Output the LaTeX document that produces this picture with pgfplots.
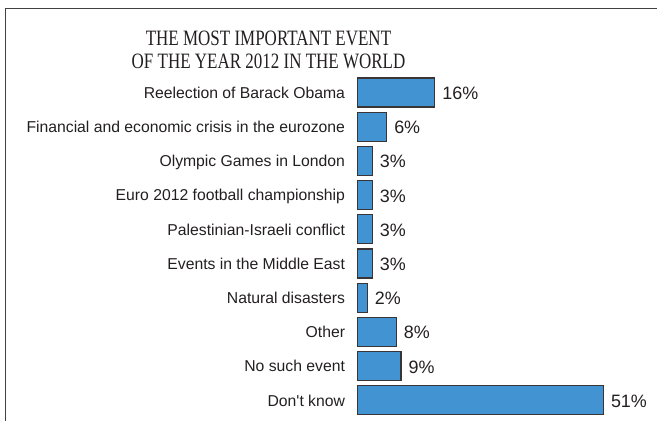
\documentclass[border=0pt]{standalone}
\usepackage{pgfplots}
\pgfplotsset{compat=1.18}
\usepackage{fontspec}
\setmainfont{Liberation Sans}[Ligatures=TeXOff]
\newfontfamily\titlefont[FakeStretch=0.775]{Liberation Serif}
\definecolor{barblue}{HTML}{4193D2}
\definecolor{ink}{HTML}{231F20}
\begin{document}
\begin{tikzpicture}[x=1bp,y=1bp]
\useasboundingbox (0,0) rectangle (657,421);
\draw[ink!85, line width=1.2bp] (5.7,0) -- (5.7,412.7) -- (657,412.7);
\node[anchor=base, inner sep=0pt, font=\titlefont\fontsize{22}{24}\selectfont, text=ink] at (268.5,375.5) {THE MOST IMPORTANT EVENT};
\node[anchor=base, inner sep=0pt, font=\titlefont\fontsize{22}{24}\selectfont, text=ink] at (268.5,352.2) {OF THE YEAR 2012 IN THE WORLD};
\begin{axis}[
  at={(357.7bp,3.6bp)}, anchor=south west,
  scale only axis, width=289bp, height=342bp,
  xmin=0, xmax=60, ymin=-0.5, ymax=9.5,
  y dir=reverse, clip=false,
  xbar, bar width=29bp, bar shift=0pt,
  hide x axis,
  axis line style={draw=none},
  major tick length=0pt, tick style={draw=none},
  ytick={0,...,9},
  yticklabels={Reelection of Barack Obama,Financial and economic crisis in the eurozone,Olympic Games in London,Euro 2012 football championship,Palestinian-Israeli conflict,Events in the Middle East,Natural disasters,Other,No such event,Don't know},
  yticklabel style={font=\fontsize{15.8}{17}\selectfont, text=ink, anchor=base east, inner sep=0pt, xshift=-12.5bp, yshift=-5.7bp},
  nodes near coords={\pgfmathprintnumber[fixed,precision=0,assume math mode=true]{\pgfplotspointmeta}\%},
  nodes near coords style={font=\fontsize{18}{20}\selectfont, text=ink, anchor=base west, inner sep=0pt, xshift=7bp, yshift=-7bp},
]
\addplot[fill=barblue, draw=ink!90, line width=1.3bp] coordinates {
(16,0) (6,1) (3,2) (3,3) (3,4) (3,5) (2,6) (8,7) (9,8) (51,9)
};
\end{axis}
\end{tikzpicture}
\end{document}
